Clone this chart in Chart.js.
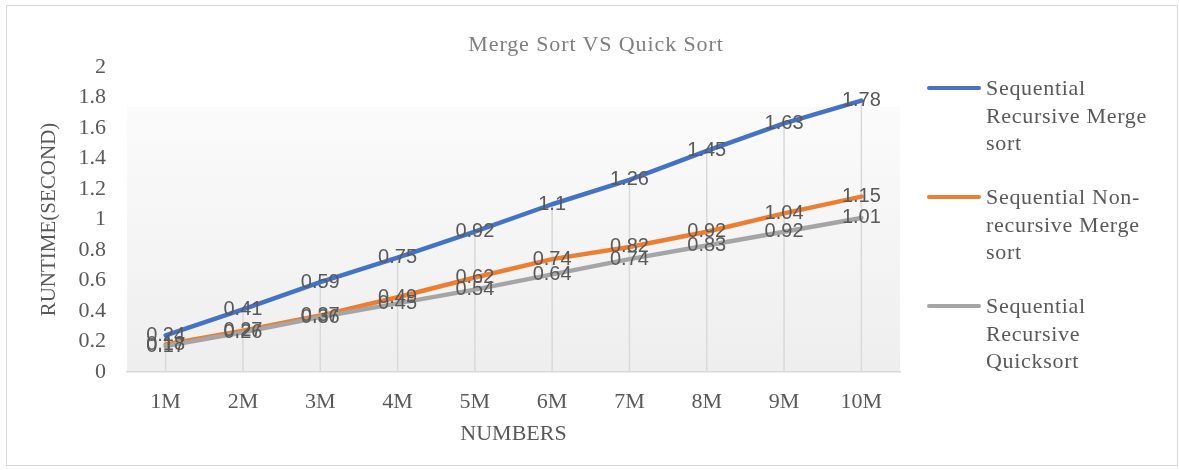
<!DOCTYPE html>
<html>
<head>
<meta charset="utf-8">
<title>Merge Sort VS Quick Sort</title>
<script src="https://cdn.jsdelivr.net/npm/chart.js@4"></script>
<style>
html, body { margin: 0; padding: 0; background: #fff; }
#wrap { position: relative; width: 1179px; height: 470px; }
#frame { position: absolute; left: 6px; top: 5px; width: 1172px; height: 461px; border: 1.5px solid #d9d9d9; box-sizing: border-box; pointer-events: none; }
#chartTitle { position: absolute; left: 396px; width: 400px; top: 30px; text-align: center; font-family: "Liberation Serif", "Times New Roman", serif; font-size: 22px; line-height: 28px; letter-spacing: 0.9px; color: #7f7f7f; }
#legend { position: absolute; left: 927px; top: 74px; font-family: "Liberation Serif", "Times New Roman", serif; font-size: 22px; line-height: 27.5px; letter-spacing: 0.7px; color: #595959; }
.item { display: flex; align-items: flex-start; margin-bottom: 26.5px; }
.swatch { width: 54px; height: 4.5px; border-radius: 2px; margin-top: 11.5px; margin-right: 5px; flex: none; }
.text { width: 180px; }
</style>
</head>
<body>
<div id="wrap">
  <canvas id="sortChart" width="1179" height="470"></canvas>
  <div id="frame"></div>
  <div id="chartTitle">Merge Sort VS Quick Sort</div>
  <div id="legend"></div>
</div>
<script>
// values
var categories = ['1M', '2M', '3M', '4M', '5M', '6M', '7M', '8M', '9M', '10M'];
var seriesNames = ['Sequential Recursive Merge sort', 'Sequential Non-recursive Merge sort', 'Sequential Recursive Quicksort'];
var recursiveMerge = [0.24, 0.41, 0.59, 0.75, 0.92, 1.1, 1.26, 1.45, 1.63, 1.78];
var nonRecursiveMerge = [0.18, 0.27, 0.37, 0.49, 0.62, 0.74, 0.82, 0.92, 1.04, 1.15];
var recursiveQuick = [0.17, 0.26, 0.36, 0.45, 0.54, 0.64, 0.74, 0.83, 0.92, 1.01];
var yMin = 0, yMax = 2, yStep = 0.2;

var colors = ['#4472C4', '#ED7D31', '#A5A5A5'];
var serif = '"Liberation Serif", "Times New Roman", serif';
var textColor = '#595959';

// plot background, drop lines and value labels
var plotExtras = {
    id: 'plotExtras',
    beforeDraw: function(chart) {
        var ctx = chart.ctx, a = chart.chartArea;
        var top = a.top + 40;
        var g = ctx.createLinearGradient(0, top, 0, a.bottom);
        g.addColorStop(0, '#fbfbfb');
        g.addColorStop(1, '#eeeeee');
        ctx.save();
        ctx.fillStyle = g;
        ctx.fillRect(a.left, top, a.right - a.left, a.bottom - top);
        ctx.restore();
    },
    beforeDatasetsDraw: function(chart) {
        var ctx = chart.ctx;
        var x = chart.scales.x, y = chart.scales.y;
        ctx.save();
        ctx.strokeStyle = '#d9d9d9';
        ctx.lineWidth = 1.5;
        for (var i = 0; i < categories.length; i++) {
            var top = Math.max(recursiveMerge[i], nonRecursiveMerge[i], recursiveQuick[i]);
            var px = x.getPixelForValue(i);
            ctx.beginPath();
            ctx.moveTo(px, y.getPixelForValue(top));
            ctx.lineTo(px, y.getPixelForValue(yMin));
            ctx.stroke();
        }
        ctx.restore();
    },
    afterDatasetsDraw: function(chart) {
        var ctx = chart.ctx;
        ctx.save();
        ctx.font = '20px "Liberation Sans", Arial, sans-serif';
        ctx.fillStyle = textColor;
        ctx.textAlign = 'center';
        ctx.textBaseline = 'middle';
        chart.data.datasets.forEach(function(ds, d) {
            var meta = chart.getDatasetMeta(d);
            meta.data.forEach(function(pt, i) {
                ctx.fillText(String(ds.data[i]), pt.x, pt.y);
            });
        });
        ctx.restore();
    }
};

var ctx = document.getElementById('sortChart').getContext('2d');
var sortChart = new Chart(ctx, {
    type: 'line',
    data: {
        labels: categories,
        datasets: [{
            label: seriesNames[0],
            data: recursiveMerge,
            borderColor: colors[0],
            order: 2
        }, {
            label: seriesNames[1],
            data: nonRecursiveMerge,
            borderColor: colors[1],
            order: 1
        }, {
            label: seriesNames[2],
            data: recursiveQuick,
            borderColor: colors[2],
            order: 0
        }]
    },
    options: {
        responsive: false,
        animation: false,
        layout: {
            padding: { left: 33, right: 279, top: 67, bottom: 19 }
        },
        elements: {
            line: { borderWidth: 4.5, tension: 0, borderCapStyle: 'round', borderJoinStyle: 'round' },
            point: { radius: 0, hoverRadius: 0 }
        },
        plugins: {
            legend: { display: false },
            tooltip: { enabled: false },
            title: { display: false }
        },
        scales: {
            x: {
                offset: true,
                grid: { display: false, drawTicks: false },
                border: { display: true, color: '#d9d9d9', width: 1.5 },
                ticks: { color: textColor, font: { family: serif, size: 22 }, padding: 17, maxRotation: 0 },
                title: { display: true, text: 'NUMBERS', color: textColor, font: { family: serif, size: 22 }, padding: { top: 4, bottom: 4 } },
                afterFit: function(scale) { scale.height = 79; }
            },
            y: {
                min: yMin,
                max: yMax,
                grid: { display: false, drawTicks: false },
                border: { display: false },
                ticks: {
                    stepSize: yStep,
                    color: textColor,
                    font: { family: serif, size: 22 },
                    padding: 21,
                    callback: function(v) { return String(parseFloat(v.toFixed(1))); }
                },
                title: { display: true, text: 'RUNTIME(SECOND)', color: textColor, font: { family: serif, size: 21 }, padding: { top: 4, bottom: 4 } },
                afterFit: function(scale) { scale.width = 94; }
            }
        }
    },
    plugins: [plotExtras]
});

// legend with wrapped names, like the reference
var legend = document.getElementById('legend');
sortChart.data.datasets.forEach(function(ds) {
    var item = document.createElement('div');
    item.className = 'item';
    var sw = document.createElement('div');
    sw.className = 'swatch';
    sw.style.background = ds.borderColor;
    var tx = document.createElement('div');
    tx.className = 'text';
    tx.textContent = ds.label;
    item.appendChild(sw);
    item.appendChild(tx);
    legend.appendChild(item);
});
</script>
</body>
</html>
